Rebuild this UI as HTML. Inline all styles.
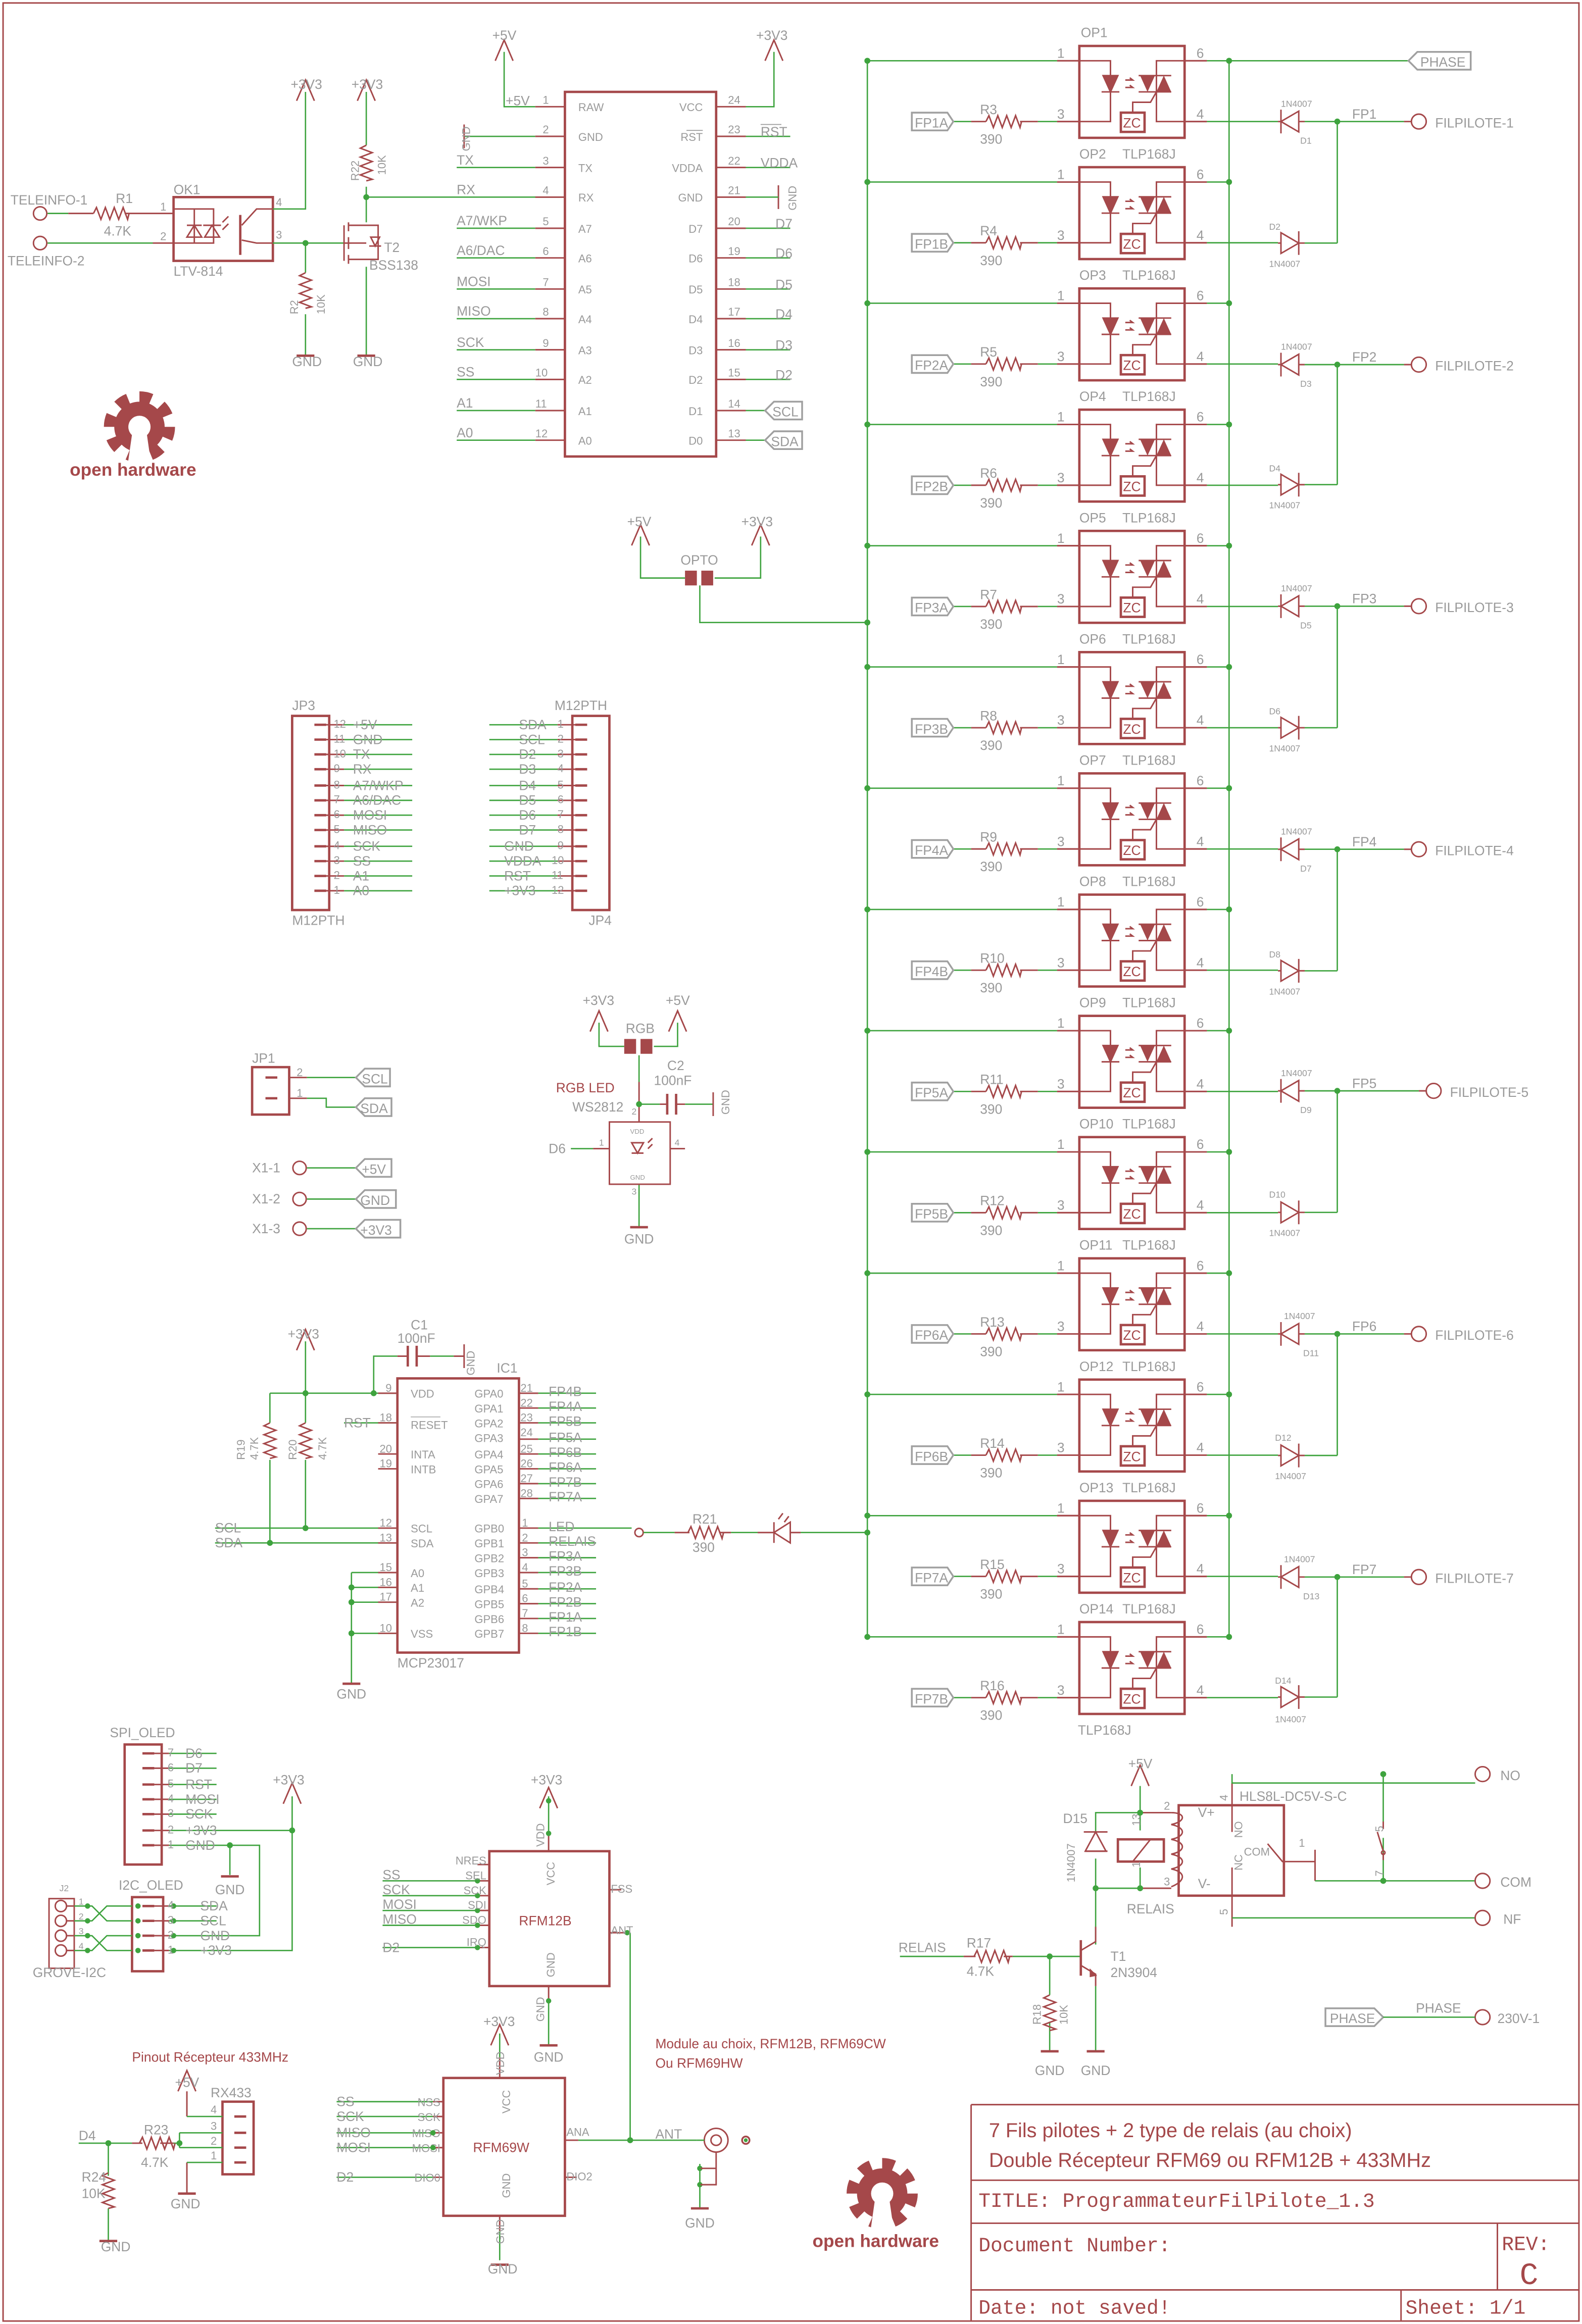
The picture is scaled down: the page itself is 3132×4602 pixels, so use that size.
<!DOCTYPE html>
<html><head><meta charset="utf-8"><style>
html,body{margin:0;padding:0;background:#fff}
svg{display:block}
.r{stroke:#a5484a;stroke-width:1;fill:none}
.rb{stroke:#a5484a;stroke-width:1.6;fill:none}
.g{stroke:#3ea33e;stroke-width:0.9;fill:none}
.gy{stroke:#a0a0a0;stroke-width:1.2;fill:none}
.fr{fill:#a5484a}
.dot{fill:#3ea33e}
text{font-family:"Liberation Sans",sans-serif;font-size:9px;fill:#9a9a9a}
.s{font-size:6px}
.m{font-size:7.5px}
.rt{fill:#a5484a}
.zc{font-size:9px;fill:#a5484a}
.tb{font-size:13.5px;fill:#a5484a}
.mono{font-family:"Liberation Mono",monospace;font-size:13.5px;fill:#a5484a}
</style></head><body>
<svg width="3132" height="4602" viewBox="0 0 1067 1568" xmlns="http://www.w3.org/2000/svg">
<defs>
<g id="opto">
<rect class="rb" x="0" y="0" width="71" height="62"/>
<path class="r" d="M-15 10H21V51H-15M21 20V31M16 20h10l-5 11z M15 31h12"/>
<path class="fr" d="M16 20h10l-5 11z"/>
<path class="r" d="M31 23h5l-2-1.5M31 28h5l-2-1.5"/>
<path class="r" d="M86 10H52V51H86M40 20h22M40 31h22M52 31l-4 7h-12v7"/>
<path class="fr" d="M41 20h10l-5 11zM52 31h10l-5-11z"/>
<rect class="rb" x="28" y="45" width="16" height="13"/>
<text class="zc" x="29.5" y="55">ZC</text>
</g>
<g id="res"><path class="r" d="M0 0l2-4 3 8 3-8 3 8 3-8 3 8 3-8 3 8 1-4"/></g>
<g id="vres"><path class="r" d="M0 0l-4 2 8 3-8 3 8 3-8 3 8 3-8 3 8 3-4 1"/></g>
<g id="row">
<path class="g" d="M585 10H713M814 10H829M643 51H655M700 51H713M814 51H862"/>
<path class="r" d="M713 10H728M799 10H814M655 51H665M688 51H700M713 51H728M799 51H814"/>
<use href="#opto" x="728" y="0"/>
<use href="#res" x="665" y="51"/>
<path class="gy" d="M615 45H639L643 51L639 57H615Z"/>
<circle class="dot" cx="585" cy="10" r="2"/><circle class="dot" cx="829" cy="10" r="2"/>
</g>
<g id="dl"><path class="r" d="M862 0h2M876 0h4M864 -8V8"/><path class="r" d="M876 -7V7L864 0Z"/><path class="g" d="M880 0H902"/></g>
<g id="dr"><path class="r" d="M862 0h2M876 0h4M876 -8V8"/><path class="r" d="M864 -7V7L876 0Z"/><path class="g" d="M880 0H902"/></g>
<g id="gear">
<circle r="17" class="fr"/>
<circle r="20" fill="none" stroke="#a5484a" stroke-width="8" stroke-dasharray="8 7.7"/>
<circle r="7.5" fill="#fff"/>
<path d="M-5 5L-8 26H8L5 5Z" fill="#fff"/>
</g>
<g id="gnd"><path class="rb" d="M-6 0H6"/></g>
</defs>

<rect x="2" y="2" width="1063" height="1564" class="r"/>

<path class="g" d="M585 41V1104M829 41V1104M829 41H950"/>
<path class="gy" d="M956 35H992V47H956L950 41Z"/><text x="958" y="45">PHASE</text>

<g transform="translate(0,31)"><use href="#row"/><text x="617" y="55">FP1A</text><text x="661" y="46">R3</text><text x="661" y="66">390</text><text x="713" y="8">1</text><text x="807" y="8">6</text><text x="713" y="49">3</text><text x="807" y="49">4</text><text x="729" y="-6">OP1</text><text x="728" y="76">OP2</text><text x="757" y="76">TLP168J</text></g>
<g transform="translate(0,112.8)"><use href="#row"/><text x="617" y="55">FP1B</text><text x="661" y="46">R4</text><text x="661" y="66">390</text><text x="713" y="8">1</text><text x="807" y="8">6</text><text x="713" y="49">3</text><text x="807" y="49">4</text><text x="728" y="76">OP3</text><text x="757" y="76">TLP168J</text></g>
<g transform="translate(0,194.6)"><use href="#row"/><text x="617" y="55">FP2A</text><text x="661" y="46">R5</text><text x="661" y="66">390</text><text x="713" y="8">1</text><text x="807" y="8">6</text><text x="713" y="49">3</text><text x="807" y="49">4</text><text x="728" y="76">OP4</text><text x="757" y="76">TLP168J</text></g>
<g transform="translate(0,276.4)"><use href="#row"/><text x="617" y="55">FP2B</text><text x="661" y="46">R6</text><text x="661" y="66">390</text><text x="713" y="8">1</text><text x="807" y="8">6</text><text x="713" y="49">3</text><text x="807" y="49">4</text><text x="728" y="76">OP5</text><text x="757" y="76">TLP168J</text></g>
<g transform="translate(0,358.2)"><use href="#row"/><text x="617" y="55">FP3A</text><text x="661" y="46">R7</text><text x="661" y="66">390</text><text x="713" y="8">1</text><text x="807" y="8">6</text><text x="713" y="49">3</text><text x="807" y="49">4</text><text x="728" y="76">OP6</text><text x="757" y="76">TLP168J</text></g>
<g transform="translate(0,440)"><use href="#row"/><text x="617" y="55">FP3B</text><text x="661" y="46">R8</text><text x="661" y="66">390</text><text x="713" y="8">1</text><text x="807" y="8">6</text><text x="713" y="49">3</text><text x="807" y="49">4</text><text x="728" y="76">OP7</text><text x="757" y="76">TLP168J</text></g>
<g transform="translate(0,521.8)"><use href="#row"/><text x="617" y="55">FP4A</text><text x="661" y="46">R9</text><text x="661" y="66">390</text><text x="713" y="8">1</text><text x="807" y="8">6</text><text x="713" y="49">3</text><text x="807" y="49">4</text><text x="728" y="76">OP8</text><text x="757" y="76">TLP168J</text></g>
<g transform="translate(0,603.6)"><use href="#row"/><text x="617" y="55">FP4B</text><text x="661" y="46">R10</text><text x="661" y="66">390</text><text x="713" y="8">1</text><text x="807" y="8">6</text><text x="713" y="49">3</text><text x="807" y="49">4</text><text x="728" y="76">OP9</text><text x="757" y="76">TLP168J</text></g>
<g transform="translate(0,685.4)"><use href="#row"/><text x="617" y="55">FP5A</text><text x="661" y="46">R11</text><text x="661" y="66">390</text><text x="713" y="8">1</text><text x="807" y="8">6</text><text x="713" y="49">3</text><text x="807" y="49">4</text><text x="728" y="76">OP10</text><text x="757" y="76">TLP168J</text></g>
<g transform="translate(0,767.2)"><use href="#row"/><text x="617" y="55">FP5B</text><text x="661" y="46">R12</text><text x="661" y="66">390</text><text x="713" y="8">1</text><text x="807" y="8">6</text><text x="713" y="49">3</text><text x="807" y="49">4</text><text x="728" y="76">OP11</text><text x="757" y="76">TLP168J</text></g>
<g transform="translate(0,849)"><use href="#row"/><text x="617" y="55">FP6A</text><text x="661" y="46">R13</text><text x="661" y="66">390</text><text x="713" y="8">1</text><text x="807" y="8">6</text><text x="713" y="49">3</text><text x="807" y="49">4</text><text x="728" y="76">OP12</text><text x="757" y="76">TLP168J</text></g>
<g transform="translate(0,930.8)"><use href="#row"/><text x="617" y="55">FP6B</text><text x="661" y="46">R14</text><text x="661" y="66">390</text><text x="713" y="8">1</text><text x="807" y="8">6</text><text x="713" y="49">3</text><text x="807" y="49">4</text><text x="728" y="76">OP13</text><text x="757" y="76">TLP168J</text></g>
<g transform="translate(0,1012.6)"><use href="#row"/><text x="617" y="55">FP7A</text><text x="661" y="46">R15</text><text x="661" y="66">390</text><text x="713" y="8">1</text><text x="807" y="8">6</text><text x="713" y="49">3</text><text x="807" y="49">4</text><text x="728" y="76">OP14</text><text x="757" y="76">TLP168J</text></g>
<g transform="translate(0,1094.4)"><use href="#row"/><text x="617" y="55">FP7B</text><text x="661" y="46">R16</text><text x="661" y="66">390</text><text x="713" y="8">1</text><text x="807" y="8">6</text><text x="713" y="49">3</text><text x="807" y="49">4</text><text x="727" y="76">TLP168J</text></g>

<g>
<use href="#dl" y="82"/><use href="#dr" y="164"/>
<use href="#dl" y="246"/><use href="#dr" y="327"/>
<use href="#dl" y="409"/><use href="#dr" y="491"/>
<use href="#dl" y="573"/><use href="#dr" y="655"/>
<use href="#dl" y="736"/><use href="#dr" y="818"/>
<use href="#dl" y="900"/><use href="#dr" y="982"/>
<use href="#dl" y="1064"/><use href="#dr" y="1145"/>
<path class="g" d="M902 82V164M902 246V327M902 409V491M902 573V655M902 736V818M902 900V982M902 1064V1145"/>
<path class="g" d="M902 82H947M902 246H947M902 409H947M902 573H947M902 736H957M902 900H947M902 1064H947"/>
<path class="r" d="M947 82h5M947 246h5M947 409h5M947 573h5M957 736h5M947 900h5M947 1064h5"/>
<g class="r" stroke-width="1.3"><circle cx="957" cy="82" r="5"/><circle cx="957" cy="246" r="5"/><circle cx="957" cy="409" r="5"/><circle cx="957" cy="573" r="5"/><circle cx="967" cy="736" r="5"/><circle cx="957" cy="900" r="5"/><circle cx="957" cy="1064" r="5"/></g>
<g class="dot"><circle cx="902" cy="82" r="2"/><circle cx="902" cy="246" r="2"/><circle cx="902" cy="409" r="2"/><circle cx="902" cy="573" r="2"/><circle cx="902" cy="736" r="2"/><circle cx="902" cy="900" r="2"/><circle cx="902" cy="1064" r="2"/></g>
<text x="968" y="86">FILPILOTE-1</text><text x="968" y="250">FILPILOTE-2</text><text x="968" y="413">FILPILOTE-3</text><text x="968" y="577">FILPILOTE-4</text><text x="978" y="740">FILPILOTE-5</text><text x="968" y="904">FILPILOTE-6</text><text x="968" y="1068">FILPILOTE-7</text>
<text x="912" y="80">FP1</text><text x="912" y="244">FP2</text><text x="912" y="407">FP3</text><text x="912" y="571">FP4</text><text x="912" y="734">FP5</text><text x="912" y="898">FP6</text><text x="912" y="1062">FP7</text>
<text class="s" x="864" y="72">1N4007</text><text class="s" x="877" y="97">D1</text>
<text class="s" x="856" y="155">D2</text><text class="s" x="856" y="180">1N4007</text>
<text class="s" x="864" y="236">1N4007</text><text class="s" x="877" y="261">D3</text>
<text class="s" x="856" y="318">D4</text><text class="s" x="856" y="343">1N4007</text>
<text class="s" x="864" y="399">1N4007</text><text class="s" x="877" y="424">D5</text>
<text class="s" x="856" y="482">D6</text><text class="s" x="856" y="507">1N4007</text>
<text class="s" x="864" y="563">1N4007</text><text class="s" x="877" y="588">D7</text>
<text class="s" x="856" y="646">D8</text><text class="s" x="856" y="671">1N4007</text>
<text class="s" x="864" y="726">1N4007</text><text class="s" x="877" y="751">D9</text>
<text class="s" x="856" y="808">D10</text><text class="s" x="856" y="834">1N4007</text>
<text class="s" x="866" y="890">1N4007</text><text class="s" x="879" y="915">D11</text>
<text class="s" x="860" y="972">D12</text><text class="s" x="860" y="998">1N4007</text>
<text class="s" x="866" y="1054">1N4007</text><text class="s" x="879" y="1079">D13</text>
<text class="s" x="860" y="1136">D14</text><text class="s" x="860" y="1162">1N4007</text>
</g>

<g>
<circle class="r" stroke-width="1.3" cx="27" cy="144" r="4.5"/><circle class="r" stroke-width="1.3" cx="27" cy="164" r="4.5"/>
<text x="7" y="138">TELEINFO-1</text><text x="5" y="179">TELEINFO-2</text>
<path class="g" d="M32 144H46M32 164H103"/>
<path class="r" d="M46 144H63M84 144H103M103 144H117M103 164H117"/>
<use href="#res" x="63" y="144"/>
<text x="78" y="137">R1</text><text x="70" y="159">4.7K</text>
<rect class="rb" x="117" y="133" width="67" height="43"/>
<text x="117" y="131">OK1</text><text x="117" y="186">LTV-814</text>
<text class="m" x="108" y="142">1</text><text class="m" x="108" y="162">2</text><text class="m" x="186" y="139">4</text><text class="m" x="186" y="161">3</text>
<path class="r" d="M117 141H144V164H117M131 141V164M126 152h10M126 160h10l-5-8zM138 160h10l-5-8zM137 152h12M150 150l4-4M150 155l4-4"/>
<path class="rb" d="M162 145V172"/>
<path class="r" d="M163 152l10-11H184M163 162l10 2H184"/>
<path class="g" d="M184 141H206V62M184 164H237"/>
<path class="r" d="M200 68l6-14 6 14"/>
<text x="196" y="60">+3V3</text>
<circle class="dot" cx="206" cy="164" r="2"/>
<path class="g" d="M206 164V184M206 212V240"/><use href="#vres" x="206" y="184"/>
<use href="#gnd" x="206" y="240"/>
<text x="197" y="247">GND</text>
<text class="m" transform="translate(201,212) rotate(-90)">R2</text><text class="m" transform="translate(219,212) rotate(-90)">10K</text>
<path class="g" d="M247 62V98M247 126V150M247 180V240M247 133H381"/>
<path class="r" d="M241 68l6-14 6 14"/><text x="237" y="60">+3V3</text>
<use href="#vres" x="247" y="98"/>
<text class="m" transform="translate(242,122) rotate(-90)">R22</text><text class="m" transform="translate(260,118) rotate(-90)">10K</text>
<circle class="dot" cx="247" cy="133" r="2"/>
<path class="r" d="M237 164H232M232 152V176M235 150V156M235 160V168M235 172V178M235 152H255V175H235M247 164H235M250 160h6l-3 6zM249 166h8"/>
<text x="259" y="170">T2</text><text x="249" y="182">BSS138</text>
<use href="#gnd" x="247" y="240"/><text x="238" y="247">GND</text>
</g>

<g>
<rect class="rb" x="381" y="62" width="102" height="246"/>
<path class="g" d="M340 35V72H361M313 92H361M308 113H361M308 154H361M308 174H361M308 195H361M308 215H361M308 236H361M308 256H361M308 277H361M308 297H361"/>
<path class="r" d="M361 72H381M361 92H381M361 113H381M361 133H381M361 154H381M361 174H381M361 195H381M361 215H381M361 236H381M361 256H381M361 277H381M361 297H381"/>
<path class="r" d="M334 41l6-14 6 14M516 41l6-14 6 14M313 84V100M525 125V141"/>
<text x="332" y="27">+5V</text><text x="510" y="27">+3V3</text>
<text class="m" transform="translate(317,102) rotate(-90)">GND</text>
<text x="341" y="71">+5V</text>
<text x="308" y="111">TX</text><text x="308" y="131">RX</text><text x="308" y="152">A7/WKP</text><text x="308" y="172">A6/DAC</text><text x="308" y="193">MOSI</text><text x="308" y="213">MISO</text><text x="308" y="234">SCK</text><text x="308" y="254">SS</text><text x="308" y="275">A1</text><text x="308" y="295">A0</text>
<g><text class="m" x="366" y="70">1</text><text class="m" x="366" y="90">2</text><text class="m" x="366" y="111">3</text><text class="m" x="366" y="131">4</text><text class="m" x="366" y="152">5</text><text class="m" x="366" y="172">6</text><text class="m" x="366" y="193">7</text><text class="m" x="366" y="213">8</text><text class="m" x="366" y="234">9</text><text class="m" x="361" y="254">10</text><text class="m" x="361" y="275">11</text><text class="m" x="361" y="295">12</text></g>
<g><text class="m" x="390" y="75">RAW</text><text class="m" x="390" y="95">GND</text><text class="m" x="390" y="116">TX</text><text class="m" x="390" y="136">RX</text><text class="m" x="390" y="157">A7</text><text class="m" x="390" y="177">A6</text><text class="m" x="390" y="198">A5</text><text class="m" x="390" y="218">A4</text><text class="m" x="390" y="239">A3</text><text class="m" x="390" y="259">A2</text><text class="m" x="390" y="280">A1</text><text class="m" x="390" y="300">A0</text></g>
<g text-anchor="end"><text class="m" x="474" y="75">VCC</text><text class="m" x="474" y="95">RST</text><text class="m" x="474" y="116">VDDA</text><text class="m" x="474" y="136">GND</text><text class="m" x="474" y="157">D7</text><text class="m" x="474" y="177">D6</text><text class="m" x="474" y="198">D5</text><text class="m" x="474" y="218">D4</text><text class="m" x="474" y="239">D3</text><text class="m" x="474" y="259">D2</text><text class="m" x="474" y="280">D1</text><text class="m" x="474" y="300">D0</text></g>
<path d="M463 88h11" stroke="#9a9a9a" stroke-width="0.6"/>
<path class="r" d="M483 72H503M483 92H503M483 113H503M483 133H503M483 154H503M483 174H503M483 195H503M483 215H503M483 236H503M483 256H503M483 277H503M483 297H503"/>
<path class="g" d="M503 72H522V35M503 92H533M503 113H533M503 133H525M503 154H533M503 174H533M503 195H533M503 215H533M503 236H533M503 256H533M503 277H516M503 297H516"/>
<g><text class="m" x="491" y="70">24</text><text class="m" x="491" y="90">23</text><text class="m" x="491" y="111">22</text><text class="m" x="491" y="131">21</text><text class="m" x="491" y="152">20</text><text class="m" x="491" y="172">19</text><text class="m" x="491" y="193">18</text><text class="m" x="491" y="213">17</text><text class="m" x="491" y="234">16</text><text class="m" x="491" y="254">15</text><text class="m" x="491" y="275">14</text><text class="m" x="491" y="295">13</text></g>
<text x="513" y="92">RST</text><path d="M513 84h14" stroke="#9a9a9a" stroke-width="0.6"/><text x="513" y="113">VDDA</text>
<text class="m" transform="translate(537,142) rotate(-90)">GND</text>
<text x="523" y="154">D7</text><text x="523" y="174">D6</text><text x="523" y="195">D5</text><text x="523" y="215">D4</text><text x="523" y="236">D3</text><text x="523" y="256">D2</text>
<path class="gy" d="M516 277L522 271H541V283H522Z"/><text x="521" y="281">SCL</text>
<path class="gy" d="M516 297L522 291H541V303H522Z"/><text x="520" y="301">SDA</text>
</g>

<use href="#gear" x="94" y="288"/>
<text x="47" y="321" style="font-size:12px;font-weight:bold;fill:#a5484a">open hardware</text>
<use href="#gear" x="595" y="1480"/>
<text x="548" y="1516" style="font-size:12px;font-weight:bold;fill:#a5484a">open hardware</text>

<g>
<path class="g" d="M432 362V390H462M513 362V390H482M472 395V420H585"/>
<path class="r" d="M426 368l6-14 6 14M507 368l6-14 6 14"/>
<text x="423" y="355">+5V</text><text x="500" y="355">+3V3</text><text x="459" y="381">OPTO</text>
<path class="fr" d="M462 385h8v10h-8zM473 385h8v10h-8z"/>
<circle class="dot" cx="585" cy="420" r="2"/>
</g>

<g>
<rect class="rb" x="197" y="483" width="25" height="131"/>
<text x="197" y="479">JP3</text><text x="197" y="624">M12PTH</text>
<path class="g" d="M232 489H278M232 499H278M232 509H278M232 519H278M232 530H278M232 540H278M232 550H278M232 560H278M232 571H278M232 581H278M232 591H278M232 601H278"/>
<path class="rb" d="M212 489h8M212 499h8M212 509h8M212 519h8M212 530h8M212 540h8M212 550h8M212 560h8M212 571h8M212 581h8M212 591h8M212 601h8"/>
<path class="r" d="M220 489h12M220 499h12M220 509h12M220 519h12M220 530h12M220 540h12M220 550h12M220 560h12M220 571h12M220 581h12M220 591h12M220 601h12"/>
<g><text class="m" x="225" y="491">12</text><text class="m" x="225" y="501">11</text><text class="m" x="225" y="511">10</text><text class="m" x="225" y="521">9</text><text class="m" x="225" y="532">8</text><text class="m" x="225" y="542">7</text><text class="m" x="225" y="552">6</text><text class="m" x="225" y="562">5</text><text class="m" x="225" y="573">4</text><text class="m" x="225" y="583">3</text><text class="m" x="225" y="593">2</text><text class="m" x="225" y="603">1</text></g>
<g><text x="238" y="492">+5V</text><text x="238" y="502">GND</text><text x="238" y="512">TX</text><text x="238" y="522">RX</text><text x="238" y="533">A7/WKP</text><text x="238" y="543">A6/DAC</text><text x="238" y="553">MOSI</text><text x="238" y="563">MISO</text><text x="238" y="574">SCK</text><text x="238" y="584">SS</text><text x="238" y="594">A1</text><text x="238" y="604">A0</text></g>

<rect class="rb" x="386" y="483" width="25" height="131"/>
<text x="374" y="479">M12PTH</text><text x="397" y="624">JP4</text>
<path class="g" d="M330 489H376M330 499H376M330 509H376M330 519H376M330 530H376M330 540H376M330 550H376M330 560H376M330 571H376M330 581H376M330 591H376M330 601H376"/>
<path class="r" d="M376 489h12M376 499h12M376 509h12M376 519h12M376 530h12M376 540h12M376 550h12M376 560h12M376 571h12M376 581h12M376 591h12M376 601h12"/>
<path class="rb" d="M388 489h8M388 499h8M388 509h8M388 519h8M388 530h8M388 540h8M388 550h8M388 560h8M388 571h8M388 581h8M388 591h8M388 601h8"/>
<g><text x="350" y="492">SDA</text><text x="350" y="502">SCL</text><text x="350" y="512">D2</text><text x="350" y="522">D3</text><text x="350" y="533">D4</text><text x="350" y="543">D5</text><text x="350" y="553">D6</text><text x="350" y="563">D7</text><text x="340" y="574">GND</text><text x="340" y="584">VDDA</text><text x="340" y="594">RST</text><text x="340" y="604">+3V3</text></g>
<g><text class="m" x="376" y="491">1</text><text class="m" x="376" y="501">2</text><text class="m" x="376" y="511">3</text><text class="m" x="376" y="521">4</text><text class="m" x="376" y="532">5</text><text class="m" x="376" y="542">6</text><text class="m" x="376" y="552">7</text><text class="m" x="376" y="562">8</text><text class="m" x="376" y="573">9</text><text class="m" x="372" y="583">10</text><text class="m" x="372" y="593">11</text><text class="m" x="372" y="603">12</text></g>
</g>

<g>
<path class="g" d="M404 690V706H421M457 690V706H441M431 712V730M431 745H445M462 745H481M431 799V828"/>
<path class="r" d="M398 696l6-14 6 14M451 696l6-14 6 14M431 730V757M481 737V753"/>
<text x="393" y="678">+3V3</text><text x="449" y="678">+5V</text><text x="422" y="697">RGB</text>
<path class="fr" d="M421 701h8v10h-8zM432 701h8v10h-8z"/>
<circle class="dot" cx="431" cy="745" r="2"/>
<path class="rb" d="M450 738V752M456 738V752"/><path class="r" d="M445 745h5M456 745h6"/>
<text x="450" y="722">C2</text><text x="441" y="732">100nF</text>
<text class="m" transform="translate(492,752) rotate(-90)">GND</text>
<text class="rt" x="375" y="737">RGB LED</text><text x="386" y="750">WS2812</text>
<rect class="r" x="411" y="757" width="41" height="42"/>
<text x="425" y="765" style="font-size:4.5px">VDD</text><text x="425" y="796" style="font-size:4.5px">GND</text>
<path class="r" d="M426 771h8l-4 7zM426 778h8M437 771l3-3M437 775l3-3"/>
<path class="g" d="M385 775H400"/><path class="r" d="M400 775H411M452 775H462"/>
<text x="370" y="778">D6</text><text class="s" x="404" y="773">1</text><text class="s" x="455" y="773">4</text><text class="s" x="426" y="752">2</text><text class="s" x="426" y="806">3</text>
<use href="#gnd" x="431" y="828"/><text x="421" y="839">GND</text>
</g>

<g>
<rect class="rb" x="170" y="720" width="25" height="32"/>
<text x="170" y="717">JP1</text>
<path class="rb" d="M179 727h8M179 741h8"/>
<path class="r" d="M195 727h12M195 741h12"/>
<text class="m" x="200" y="726">2</text><text class="m" x="200" y="740">1</text>
<path class="g" d="M207 727H240M207 741H220V747H240"/>
<path class="gy" d="M240 727L246 721H263V733H246Z"/><text x="244" y="731">SCL</text>
<path class="gy" d="M240 747L246 741H264V753H246Z"/><text x="243" y="751">SDA</text>
<text x="170" y="791">X1-1</text><text x="170" y="812">X1-2</text><text x="170" y="832">X1-3</text>
<g class="r" stroke-width="1.3"><circle cx="202" cy="788" r="4.5"/><circle cx="202" cy="809" r="4.5"/><circle cx="202" cy="829" r="4.5"/></g>
<path class="g" d="M207 788H240M207 809H240M207 829H240"/>
<path class="gy" d="M240 788L246 782H264V794H246Z"/><text x="244" y="792">+5V</text>
<path class="gy" d="M240 809L246 803H267V815H246Z"/><text x="243" y="813">GND</text>
<path class="gy" d="M240 829L246 823H270V835H246Z"/><text x="243" y="833">+3V3</text>
</g>

<g>
<rect class="rb" x="268" y="930" width="82" height="185"/>
<text x="335" y="926">IC1</text><text x="268" y="1125">MCP23017</text>
<path class="g" d="M206 905V940M182 940H268M252 940V915H268M290 915H306M145 1031H268M145 1041H268M182 940V960M182 985V1041M206 940V960M206 985V1031M232 960H268M237 1061H268M237 1071H268M237 1081H268M237 1102H268M237 1061V1136"/>
<path class="r" d="M200 911l6-14 6 14"/><text x="194" y="903">+3V3</text>
<use href="#vres" x="182" y="960"/><use href="#vres" x="206" y="960"/>
<text class="m" transform="translate(165,985) rotate(-90)">R19</text><text class="m" transform="translate(174,985) rotate(-90)">4.7K</text>
<text class="m" transform="translate(200,985) rotate(-90)">R20</text><text class="m" transform="translate(220,985) rotate(-90)">4.7K</text>
<path class="rb" d="M275 908V922M281 908V922"/><path class="r" d="M268 915h7M281 915h9M306 915H313M313 907V923"/>
<text x="277" y="897">C1</text><text x="268" y="906">100nF</text>
<text class="m" transform="translate(320,928) rotate(-90)">GND</text>
<g class="dot"><circle cx="206" cy="940" r="2"/><circle cx="252" cy="940" r="2"/><circle cx="206" cy="1031" r="2"/><circle cx="182" cy="1041" r="2"/><circle cx="237" cy="1071" r="2"/><circle cx="237" cy="1081" r="2"/><circle cx="237" cy="1102" r="2"/></g>
<use href="#gnd" x="237" y="1136"/><text x="227" y="1146">GND</text>
<text x="145" y="1034">SCL</text><text x="145" y="1044">SDA</text><text x="232" y="963">RST</text>
<path class="r" d="M255 940H268M255 960H268M255 981H268M255 991H268M255 1031H268M255 1041H268M255 1061H268M255 1071H268M255 1081H268M255 1102H268"/>
<g><text class="m" x="260" y="939">9</text><text class="m" x="256" y="959">18</text><text class="m" x="256" y="980">20</text><text class="m" x="256" y="990">19</text><text class="m" x="256" y="1030">12</text><text class="m" x="256" y="1040">13</text><text class="m" x="256" y="1060">15</text><text class="m" x="256" y="1070">16</text><text class="m" x="256" y="1080">17</text><text class="m" x="256" y="1101">10</text></g>
<g><text class="m" x="277" y="943">VDD</text><text class="m" x="277" y="964">RESET</text><text class="m" x="277" y="984">INTA</text><text class="m" x="277" y="994">INTB</text><text class="m" x="277" y="1034">SCL</text><text class="m" x="277" y="1044">SDA</text><text class="m" x="277" y="1064">A0</text><text class="m" x="277" y="1074">A1</text><text class="m" x="277" y="1084">A2</text><text class="m" x="277" y="1105">VSS</text></g>
<path d="M277 956h20" stroke="#9a9a9a" stroke-width="0.5"/>
<g><text class="m" x="320" y="943">GPA0</text><text class="m" x="320" y="953">GPA1</text><text class="m" x="320" y="963">GPA2</text><text class="m" x="320" y="973">GPA3</text><text class="m" x="320" y="984">GPA4</text><text class="m" x="320" y="994">GPA5</text><text class="m" x="320" y="1004">GPA6</text><text class="m" x="320" y="1014">GPA7</text><text class="m" x="320" y="1034">GPB0</text><text class="m" x="320" y="1044">GPB1</text><text class="m" x="320" y="1054">GPB2</text><text class="m" x="320" y="1064">GPB3</text><text class="m" x="320" y="1075">GPB4</text><text class="m" x="320" y="1085">GPB5</text><text class="m" x="320" y="1095">GPB6</text><text class="m" x="320" y="1105">GPB7</text></g>
<path class="r" d="M350 940h13M350 950h13M350 960h13M350 971h13M350 981h13M350 991h13M350 1001h13M350 1011h13M350 1031h13M350 1041h13M350 1051h13M350 1061h13M350 1072h13M350 1082h13M350 1092h13M350 1102h13"/>
<path class="g" d="M363 940H402M363 950H402M363 960H402M363 971H402M363 981H402M363 991H402M363 1001H402M363 1011H402M363 1031H426M363 1041H402M363 1051H402M363 1061H402M363 1072H402M363 1082H402M363 1092H402M363 1102H402"/>
<g><text class="m" x="351" y="939">21</text><text class="m" x="351" y="949">22</text><text class="m" x="351" y="959">23</text><text class="m" x="351" y="969">24</text><text class="m" x="351" y="980">25</text><text class="m" x="351" y="990">26</text><text class="m" x="351" y="1000">27</text><text class="m" x="351" y="1010">28</text><text class="m" x="352" y="1030">1</text><text class="m" x="352" y="1040">2</text><text class="m" x="352" y="1050">3</text><text class="m" x="352" y="1060">4</text><text class="m" x="352" y="1071">5</text><text class="m" x="352" y="1081">6</text><text class="m" x="352" y="1091">7</text><text class="m" x="352" y="1101">8</text></g>
<g><text x="370" y="942">FP4B</text><text x="370" y="952">FP4A</text><text x="370" y="962">FP5B</text><text x="370" y="973">FP5A</text><text x="370" y="983">FP6B</text><text x="370" y="993">FP6A</text><text x="370" y="1003">FP7B</text><text x="370" y="1013">FP7A</text><text x="370" y="1033">LED</text><text x="370" y="1043">RELAIS</text><text x="370" y="1053">FP3A</text><text x="370" y="1063">FP3B</text><text x="370" y="1074">FP2A</text><text x="370" y="1084">FP2B</text><text x="370" y="1094">FP1A</text><text x="370" y="1104">FP1B</text></g>
<circle class="r" stroke-width="1.2" cx="431" cy="1034" r="2.8"/>
<path class="g" d="M434 1034H455M493 1034H511M540 1034H585"/>
<path class="r" d="M455 1034H465M485 1034H493M511 1034H522M533 1034H540M522 1027V1041"/>
<use href="#res" x="464" y="1034"/>
<path class="r" d="M533 1027V1041L522 1034Z"/><path class="r" d="M525 1025l3-4M529 1027l3-4"/>
<text x="467" y="1028">R21</text><text x="467" y="1047">390</text>
<circle class="dot" cx="585" cy="1034" r="2"/>
</g>

<g>
<rect class="rb" x="84" y="1177" width="25" height="81"/>
<text x="74" y="1172">SPI_OLED</text>
<path class="rb" d="M96 1183h8M96 1193h8M96 1204h8M96 1214h8M96 1224h8M96 1235h8M96 1245h8"/>
<path class="r" d="M104 1183h10M104 1193h10M104 1204h10M104 1214h10M104 1224h10M104 1235h10M104 1245h10"/>
<path class="g" d="M114 1183H146M114 1193H146M114 1204H146M114 1214H146M114 1224H146M114 1235H197M114 1245H175V1306H155M155 1245V1265M197 1212V1316H155"/>
<g><text class="m" x="113" y="1185">7</text><text class="m" x="113" y="1195">6</text><text class="m" x="113" y="1206">5</text><text class="m" x="113" y="1216">4</text><text class="m" x="113" y="1226">3</text><text class="m" x="113" y="1237">2</text><text class="m" x="113" y="1247">1</text></g>
<g><text x="125" y="1186">D6</text><text x="125" y="1196">D7</text><text x="125" y="1207">RST</text><text x="125" y="1217">MOSI</text><text x="125" y="1227">SCK</text><text x="125" y="1238">+3V3</text><text x="125" y="1248">GND</text></g>
<path class="r" d="M191 1217l6-14 6 14"/><text x="184" y="1204">+3V3</text>
<circle class="dot" cx="197" cy="1235" r="2"/><circle class="dot" cx="155" cy="1245" r="2"/>
<use href="#gnd" x="155" y="1266"/><text x="145" y="1278">GND</text>
<rect class="rb" x="89" y="1280" width="21" height="50"/>
<text x="80" y="1275">I2C_OLED</text>
<path class="rb" d="M96 1286h8M96 1296h8M96 1306h8M96 1316h8"/>
<path class="r" d="M104 1286h10M104 1296h10M104 1306h10M104 1316h10"/>
<path class="g" d="M114 1286H146M114 1296H146M114 1306H155M114 1316H155"/>
<g class="dot"><circle cx="117" cy="1286" r="1.8"/><circle cx="117" cy="1296" r="1.8"/><circle cx="117" cy="1306" r="1.8"/><circle cx="117" cy="1316" r="1.8"/><circle cx="93" cy="1286" r="1.8"/><circle cx="93" cy="1296" r="1.8"/><circle cx="93" cy="1306" r="1.8"/><circle cx="93" cy="1316" r="1.8"/><circle cx="59" cy="1286" r="1.8"/><circle cx="59" cy="1296" r="1.8"/><circle cx="59" cy="1306" r="1.8"/><circle cx="59" cy="1316" r="1.8"/></g>
<g><text class="m" x="113" y="1288">4</text><text class="m" x="113" y="1298">3</text><text class="m" x="113" y="1308">2</text><text class="m" x="113" y="1318">1</text></g>
<g><text x="135" y="1289">SDA</text><text x="135" y="1299">SCL</text><text x="135" y="1309">GND</text><text x="135" y="1319">+3V3</text></g>
<rect class="r" x="33" y="1281" width="17" height="47"/>
<g class="r"><circle cx="41" cy="1286" r="3.8"/><circle cx="41" cy="1296" r="3.8"/><circle cx="41" cy="1306" r="3.8"/><circle cx="41" cy="1316" r="3.8"/></g>
<path class="r" d="M45 1286h5M45 1296h5M45 1306h5M45 1316h5"/>
<path class="g" d="M50 1286H62L72 1296H89M50 1296H62L72 1286H89M50 1306H62L72 1316H89M50 1316H62L72 1306H89"/>
<g><text class="s" x="53" y="1285">1</text><text class="s" x="53" y="1295">2</text><text class="s" x="53" y="1305">3</text><text class="s" x="53" y="1315">4</text></g>
<text class="s" x="40" y="1276">J2</text><text x="22" y="1334">GROVE-I2C</text>
</g>

<g>
<rect class="rb" x="330" y="1249" width="81" height="91"/>
<text class="rt" x="350" y="1299">RFM12B</text>
<path class="g" d="M370 1212V1238M258 1269H322M258 1279H322M258 1289H322M258 1299H322M258 1314H322M370 1350V1380M425 1304V1444"/>
<path class="r" d="M364 1220l6-14 6 14M370 1238V1249M322 1258H330M322 1269H330M322 1279H330M322 1289H330M322 1299H330M322 1314H330M370 1340V1350M411 1275H419M411 1304H425"/>
<text x="358" y="1204">+3V3</text>
<g class="dot"><circle cx="370" cy="1215" r="1.8"/><circle cx="370" cy="1237" r="1.8"/><circle cx="322" cy="1269" r="1.8"/><circle cx="322" cy="1279" r="1.8"/><circle cx="322" cy="1289" r="1.8"/><circle cx="322" cy="1299" r="1.8"/><circle cx="322" cy="1314" r="1.8"/><circle cx="370" cy="1350" r="1.8"/><circle cx="423" cy="1304" r="1.8"/></g>
<text class="m" transform="translate(367,1246) rotate(-90)">VDD</text>
<text class="m" transform="translate(374,1272) rotate(-90)">VCC</text>
<text class="m" transform="translate(374,1334) rotate(-90)">GND</text>
<text class="m" transform="translate(367,1364) rotate(-90)">GND</text>
<g text-anchor="end"><text class="m" x="328" y="1258">NRES</text><text class="m" x="328" y="1268">SEL</text><text class="m" x="328" y="1278">SCK</text><text class="m" x="328" y="1288">SDI</text><text class="m" x="328" y="1298">SDO</text><text class="m" x="328" y="1313">IRQ</text></g>
<text class="m" x="412" y="1277">FSS</text><text class="m" x="412" y="1305">ANT</text>
<g><text x="258" y="1268">SS</text><text x="258" y="1278">SCK</text><text x="258" y="1288">MOSI</text><text x="258" y="1298">MISO</text><text x="258" y="1317">D2</text></g>
<use href="#gnd" x="370" y="1380"/><text x="360" y="1391">GND</text>
</g>

<g>
<rect class="rb" x="299" y="1402" width="82" height="93"/>
<text class="rt" x="319" y="1452">RFM69W</text>
<path class="g" d="M337 1372V1388M227 1418H292M227 1428H292M227 1439H292M227 1449H292M227 1469H292M337 1505V1525M390 1444H470"/>
<path class="r" d="M331 1380l6-14 6 14M337 1388V1402M292 1418H299M292 1428H299M292 1439H299M292 1449H299M292 1469H299M337 1495V1505M381 1444H390M381 1469H389"/>
<text x="326" y="1367">+3V3</text>
<text class="m" transform="translate(340,1400) rotate(-90)">VDD</text>
<text class="m" transform="translate(344,1426) rotate(-90)">VCC</text>
<text class="m" transform="translate(344,1483) rotate(-90)">GND</text>
<text class="m" transform="translate(340,1514) rotate(-90)">GND</text>
<g text-anchor="end"><text class="m" x="297" y="1421">NSS</text><text class="m" x="297" y="1431">SCK</text><text class="m" x="297" y="1442">MISO</text><text class="m" x="297" y="1452">MOSI</text><text class="m" x="297" y="1472">DIO0</text></g>
<text class="m" x="382" y="1441">ANA</text><text class="m" x="382" y="1471">DIO2</text>
<g><text x="227" y="1421">SS</text><text x="227" y="1431">SCK</text><text x="227" y="1442">MISO</text><text x="227" y="1452">MOSI</text><text x="227" y="1472">D2</text></g>
<g class="dot"><circle cx="292" cy="1439" r="1.8"/><circle cx="292" cy="1449" r="1.8"/><circle cx="425" cy="1444" r="2"/><circle cx="472" cy="1463" r="1.8"/><circle cx="472" cy="1474" r="1.8"/></g>
<use href="#gnd" x="337" y="1528"/><text x="329" y="1534">GND</text>
<text x="442" y="1443">ANT</text>
<circle class="r" cx="483" cy="1444" r="8"/><circle class="r" cx="483" cy="1444" r="3.5"/>
<path class="g" d="M470 1444H475"/>
<circle cx="503" cy="1444" r="2.5" fill="none" stroke="#a5484a" stroke-width="1.2"/><circle class="dot" cx="503" cy="1444" r="1.3"/>
<path class="r" d="M483 1452V1474H472M483 1463H472"/><path class="g" d="M472 1460V1490"/>
<use href="#gnd" x="472" y="1490"/><text x="462" y="1503">GND</text>
<text class="rt" x="442" y="1382">Module au choix, RFM12B, RFM69CW</text>
<text class="rt" x="442" y="1395">Ou RFM69HW</text>
</g>

<g>
<text class="rt" x="89" y="1391">Pinout Récepteur 433MHz</text>
<rect class="rb" x="150" y="1418" width="21" height="49"/>
<text x="142" y="1415">RX433</text>
<path class="rb" d="M158 1428h8M158 1439h8M158 1449h8M158 1459h8"/>
<path class="r" d="M120 1411l6-14 6 14M126 1411V1428M126 1480V1459"/>
<path class="g" d="M126 1428H150M121 1439H150M121 1449H150M121 1439V1449M126 1459H150M53 1446H89M121 1446H117M73 1446V1468M73 1490V1512"/>
<path class="r" d="M89 1446H96M108 1446H117"/>
<use href="#res" x="94" y="1446"/><use href="#vres" x="73" y="1466"/>
<text x="118" y="1408">+5V</text>
<g><text class="m" x="142" y="1426">4</text><text class="m" x="142" y="1437">3</text><text class="m" x="142" y="1447">2</text><text class="m" x="142" y="1457">1</text></g>
<text x="53" y="1444">D4</text><text x="97" y="1440">R23</text><text x="95" y="1462">4.7K</text>
<text x="55" y="1472">R24</text><text x="55" y="1483">10K</text>
<g class="dot"><circle cx="73" cy="1446" r="2"/><circle cx="121" cy="1446" r="2"/></g>
<use href="#gnd" x="126" y="1480"/><text x="115" y="1490">GND</text>
<use href="#gnd" x="73" y="1512"/><text x="68" y="1519">GND</text>
</g>

<g>
<path class="r" d="M763 1205l6-14 6 14"/><text x="761" y="1193">+5V</text>
<path class="g" d="M769 1205V1223H739V1236M739 1254V1274H769M739 1274V1312M769 1223V1235M769 1260V1274"/>
<path class="r" d="M769 1223H790M769 1274H790"/>
<path class="r" d="M790 1223c10 0 10 6 0 8c10 2 10 8 0 10c10 2 10 8 0 10c10 2 10 8 0 10c10 2 10 8 0 12"/>
<path class="r" d="M731 1236h16M739 1236l-7 13h14z" /><path class="r" d="M732 1249h15"/>
<rect class="rb" x="754" y="1241" width="31" height="15"/><path class="r" d="M764 1256l12-15"/>
<text x="717" y="1230">D15</text><text class="m" transform="translate(725,1270) rotate(-90)">1N4007</text>
<text class="m" transform="translate(769,1232) rotate(-90)">13</text><text class="m" transform="translate(769,1260) rotate(-90)">1</text>
<text class="m" x="785" y="1221">2</text><text class="m" x="785" y="1272">3</text>
<text x="760" y="1291">RELAIS</text>
<g class="dot"><circle cx="769" cy="1223" r="2"/><circle cx="739" cy="1274" r="2"/><circle cx="769" cy="1274" r="2"/><circle cx="708" cy="1320" r="2"/><circle cx="933" cy="1197" r="2"/><circle cx="933" cy="1269" r="2"/></g>
<rect class="rb" x="795" y="1218" width="71" height="61"/>
<text x="808" y="1226">V+</text><text x="808" y="1274">V-</text>
<text x="836" y="1215">HLS8L-DC5V-S-C</text>
<path class="r" d="M831 1203V1236M831 1260V1300M855 1244l10 12H887V1269M887 1248V1269"/>
<path class="g" d="M831 1197V1203H995M831 1294H995M887 1269H995M933 1197V1229M933 1240V1269"/>
<path class="r" d="M933 1229v5M929 1236l4 13M933 1250v5"/>
<circle class="r" cx="933" cy="1250" r="1.2"/>
<text class="m" transform="translate(828,1215) rotate(-90)">4</text><text class="m" transform="translate(838,1240) rotate(-90)">NO</text><text class="m" transform="translate(838,1262) rotate(-90)">NC</text><text class="m" transform="translate(828,1292) rotate(-90)">5</text>
<text class="m" x="839" y="1252">COM</text><text class="m" x="876" y="1246">1</text>
<text class="m" transform="translate(933,1236) rotate(-90)">5</text><text class="m" transform="translate(933,1266) rotate(-90)">7</text>
<g class="r" stroke-width="1.3"><circle cx="1000" cy="1197" r="5"/><circle cx="1000" cy="1269" r="5"/><circle cx="1000" cy="1294" r="5"/><circle cx="1000" cy="1361" r="5"/></g>
<text x="1012" y="1201">NO</text><text x="1012" y="1273">COM</text><text x="1014" y="1298">NF</text>
<path class="g" d="M607 1320H650M683 1320H729M708 1320V1346M708 1364V1384M739 1340V1384"/>
<path class="r" d="M650 1320H658M677 1320H683"/><use href="#res" x="657" y="1320"/>
<use href="#vres" x="708" y="1346"/>
<path class="rb" d="M729 1309V1333"/><path class="r" d="M729 1316l10-6V1300M729 1326l10 6V1340"/><path class="fr" d="M735 1328l5 5 -5 1z"/>
<text x="606" y="1317">RELAIS</text><text x="652" y="1314">R17</text><text x="652" y="1333">4.7K</text>
<text x="749" y="1323">T1</text><text x="749" y="1334">2N3904</text>
<text class="m" transform="translate(702,1366) rotate(-90)">R18</text><text class="m" transform="translate(720,1366) rotate(-90)">10K</text>
<use href="#gnd" x="708" y="1384"/><text x="698" y="1400">GND</text>
<use href="#gnd" x="739" y="1384"/><text x="729" y="1400">GND</text>
<path class="gy" d="M894 1355H927L933 1361L927 1367H894Z"/><text x="897" y="1365">PHASE</text>
<path class="g" d="M933 1361H995"/><text x="955" y="1358">PHASE</text><text x="1010" y="1365">230V-1</text>
</g>

<g>
<path class="r" stroke-width="1.2" d="M655 1420H1065M655 1420V1566M655 1471H1065M655 1500H1065M655 1545H1065M1010 1500V1545M945 1545V1566"/>
<text class="tb" x="667" y="1442">7 Fils pilotes + 2 type de relais (au choix)</text>
<text class="tb" x="667" y="1462">Double Récepteur RFM69 ou RFM12B + 433MHz</text>
<text class="mono" x="660" y="1489">TITLE:  ProgrammateurFilPilote_1.3</text>
<text class="mono" x="660" y="1519">Document Number:</text>
<text class="mono" x="1013" y="1518">REV:</text>
<text class="mono" x="1025" y="1541" style="font-size:21px">C</text>
<text class="mono" x="660" y="1561">Date: not saved!</text>
<text class="mono" x="948" y="1561">Sheet: 1/1</text>
</g>
</svg>
</body></html>
